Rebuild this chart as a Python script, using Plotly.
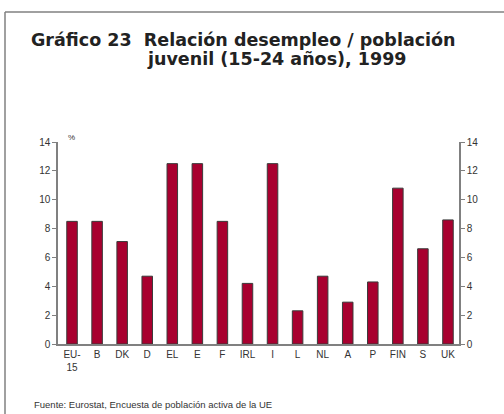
import plotly.graph_objects as go

paises = ["EU-<br>15", "B", "DK", "D", "EL", "E", "F", "IRL", "I", "L",
          "NL", "A", "P", "FIN", "S", "UK"]
ratio = [8.5, 8.5, 7.1, 4.7, 12.5, 12.5, 8.5, 4.2, 12.5, 2.3,
         4.7, 2.9, 4.3, 10.8, 6.6, 8.6]
ticks_y = [0, 2, 4, 6, 8, 10, 12, 14]

W, H = 504, 414
L, R, T, B = 58, 45, 142, 70
pw, ph = W - L - R, H - T - B

def px(x):
    return (x - L) / pw

def py(y):
    return (H - B - y) / ph

fig = go.Figure()

fig.add_trace(go.Bar(
    x=list(range(len(paises))),
    y=ratio,
    width=0.42,
    marker=dict(color="#a8002f", line=dict(color="#3a3a3a", width=1)),
    showlegend=False,
))
# invisible trace so the right axis gets drawn
fig.add_trace(go.Scatter(x=[0], y=[0], yaxis="y2", mode="markers",
                         marker=dict(opacity=0), showlegend=False, hoverinfo="skip"))

axis_font = dict(family="Liberation Sans, Arial, sans-serif", size=10, color="#333333")
title_font = dict(family="DejaVu Sans, sans-serif", size=17.5, color="#222222")

fig.update_layout(
    width=W, height=H,
    margin=dict(l=L, r=R, t=T, b=B),
    paper_bgcolor="white", plot_bgcolor="white",
    xaxis=dict(
        range=[-0.56, 15.44],
        tickmode="array", tickvals=list(range(len(paises))), ticktext=paises,
        showgrid=False, zeroline=False,
        showline=True, linecolor="#808080", linewidth=1.5,
        ticks="", tickfont=axis_font,
    ),
    yaxis=dict(
        range=[0, 14], tickvals=ticks_y,
        showgrid=False, zeroline=False,
        showline=True, linecolor="#808080", linewidth=1.5,
        ticks="outside", ticklen=4, tickcolor="#808080",
        tickfont=axis_font,
    ),
    yaxis2=dict(
        range=[0, 14], tickvals=ticks_y, overlaying="y", side="right",
        showgrid=False, zeroline=False,
        showline=True, linecolor="#808080", linewidth=1.5,
        ticks="outside", ticklen=4, tickcolor="#808080",
        tickfont=axis_font,
    ),
    shapes=[
        dict(type="line", xref="paper", yref="paper",
             x0=px(5), x1=px(504), y0=py(12), y1=py(12),
             line=dict(color="#808080", width=1.5)),
        dict(type="line", xref="paper", yref="paper",
             x0=px(5), x1=px(5), y0=py(12), y1=py(414),
             line=dict(color="#808080", width=1.5)),
    ],
    annotations=[
        dict(text="<b>Gráfico 23  Relación desempleo / población</b>",
             xref="paper", yref="paper", x=px(29), y=py(40),
             xanchor="left", yanchor="middle", showarrow=False,
             font=title_font),
        dict(text="<b>juvenil (15-24 años), 1999</b>",
             xref="paper", yref="paper", x=px(145), y=py(59),
             xanchor="left", yanchor="middle", showarrow=False,
             font=title_font),
        dict(text="%", xref="paper", yref="paper", x=px(66), y=py(137),
             xanchor="left", yanchor="middle", showarrow=False,
             font=dict(family="Liberation Sans, Arial, sans-serif", size=8, color="#333333")),
        dict(text="Fuente: Eurostat, Encuesta de población activa de la UE",
             xref="paper", yref="paper", x=px(32), y=py(404),
             xanchor="left", yanchor="middle", showarrow=False,
             font=dict(family="Liberation Sans, Arial, sans-serif", size=9.5, color="#333333")),
    ],
)

fig.write_html("out.html", config={"displayModeBar": False},
               post_script="document.body.style.margin='0';")
